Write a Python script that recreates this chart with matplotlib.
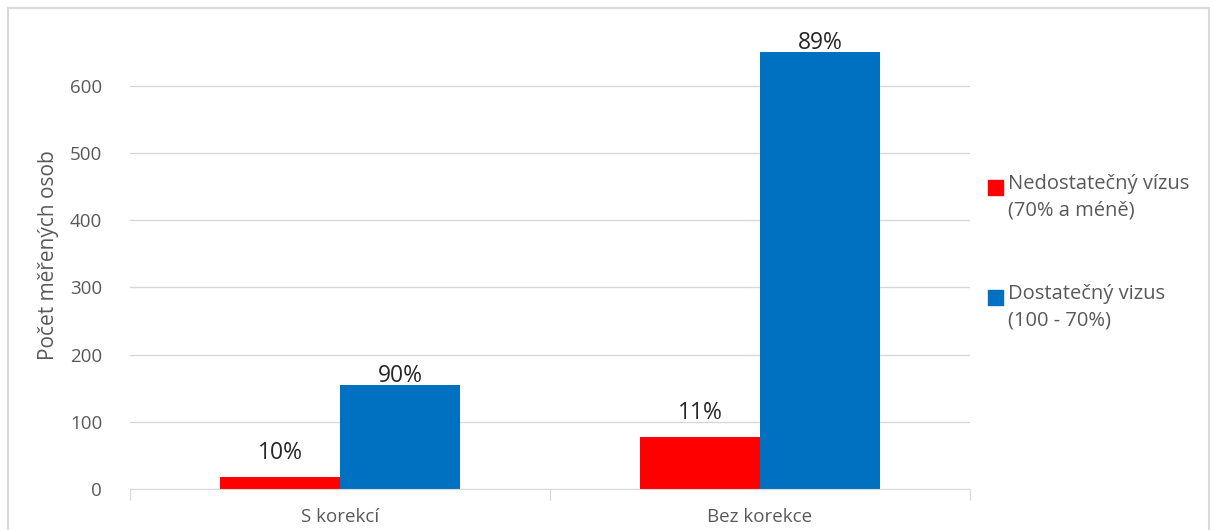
import matplotlib.pyplot as plt
from matplotlib.patches import Rectangle

# ---------- DATA ----------

categories = ["S korekcí", "Bez korekce"]
series_names = ["Nedostatečný vízus\n(70% a méně)", "Dostatečný vizus\n(100 - 70%)"]
insufficient = [18, 77]
sufficient = [155, 650]
insufficient_pct = ["10%", "11%"]
sufficient_pct = ["90%", "89%"]
y_ticks = [0, 100, 200, 300, 400, 500, 600]

RED = "#ff0000"
BLUE = "#0070c0"
GRAY = "#595959"
W, H = 1215, 530

plt.rcParams["font.family"] = ["Open Sans", "DejaVu Sans"]

# ---------- PLOTTING ----------

fig = plt.figure(figsize=(W / 100, H / 100), dpi=100)
ax = fig.add_axes([130 / W, 1 - 489 / H, 840 / W, 467 / H])

# outer chart frame
fig.patches.append(Rectangle((8 / W, -0.05), 1201 / W, 1 - 8 / H + 0.05,
                             transform=fig.transFigure, fill=False,
                             edgecolor="#d9d9d9", linewidth=1.5))

width = 2 / 7
x = list(range(len(categories)))
b1 = ax.bar([i - width / 2 for i in x], insufficient, width, color=RED)
b2 = ax.bar([i + width / 2 for i in x], sufficient, width, color=BLUE)

for rect, lab in zip(b1, insufficient_pct):
    ax.text(rect.get_x() + rect.get_width() / 2, rect.get_height() + 18, lab,
            ha="center", va="bottom", fontsize=16.5, color="#262626")
for rect, lab in zip(b2, sufficient_pct):
    ax.text(rect.get_x() + rect.get_width() / 2, rect.get_height() - 4, lab,
            ha="center", va="bottom", fontsize=16.5, color="#262626")

ax.set_xlim(-0.5, 1.5)
ax.set_ylim(0, 695)
ax.set_yticks(y_ticks)
ax.yaxis.grid(True, color="#d9d9d9", linewidth=1)
ax.set_axisbelow(True)

ax.set_xticks([-0.5, 0.5, 1.5])
ax.set_xticklabels([])
ax.set_xticks(x, minor=True)
ax.set_xticklabels(categories, minor=True)
ax.tick_params(axis="x", which="major", length=8, color="#d9d9d9")
ax.tick_params(axis="x", which="minor", length=0, pad=14, labelsize=13.5, labelcolor=GRAY)
ax.tick_params(axis="y", length=0, pad=20, labelsize=13.5, labelcolor=GRAY)

for side in ["top", "right", "left"]:
    ax.spines[side].set_visible(False)
ax.spines["bottom"].set_color("#d9d9d9")

ax.set_ylabel("Počet měřených osob", fontsize=15, color=GRAY, labelpad=8)

# legend drawn by hand: square next to first line of each entry
for name, color, ytop in zip(series_names, [RED, BLUE], [174, 284]):
    fig.patches.append(Rectangle((988 / W, 1 - (ytop + 21) / H), 15 / W, 15 / H,
                                 transform=fig.transFigure, color=color))
    fig.text(1008 / W, 1 - ytop / H, name, ha="left", va="top", fontsize=14.5,
             color=GRAY, linespacing=1.45)

fig.savefig("out.png", dpi=100)
